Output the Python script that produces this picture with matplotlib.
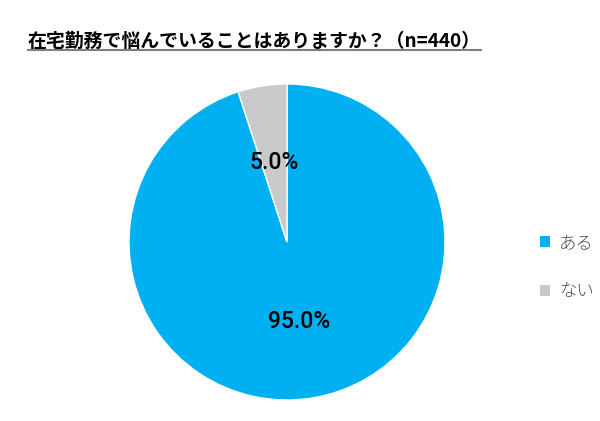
import matplotlib
matplotlib.use("Agg")
import matplotlib.pyplot as plt
from matplotlib.patches import Patch

plt.rcParams['font.family'] = ['Noto Sans CJK JP', 'DejaVu Sans']

title = "在宅勤務で悩んでいることはありますか？（n=440）"
labels = ["ある", "ない"]
values = [95.0, 5.0]
colors = ["#00B0F0", "#C9C9C9"]

fig = plt.figure(figsize=(6, 4.21), dpi=100)

# pie area: center ~ (287, 243) px, radius ~158 px
ax = fig.add_axes([129 / 600, 20 / 421, 316 / 600, 318 / 421])
wedges, texts, autotexts = ax.pie(
    values, colors=colors, startangle=90, counterclock=False,
    autopct="%.1f%%", pctdistance=0.51,
    wedgeprops=dict(edgecolor="white", linewidth=1.0),
    textprops=dict(fontsize=16.5, family=["Roboto", "DejaVu Sans"], weight="medium", color="black"),
)
ax.set_xlim(-1, 1)
ax.set_ylim(-1, 1)
ax.set_aspect("equal")

# title + underline
fig.text(28 / 600, 1 - 41 / 421, title, fontsize=13.6, weight="bold",
         ha="left", va="center", color="black")
fig.add_artist(plt.Line2D([28 / 600, 481 / 600], [1 - 49.5 / 421, 1 - 49.5 / 421],
                          color="#7f7f7f", linewidth=1.5))

handles = [Patch(facecolor=c, edgecolor="none") for c in colors]
fig.legend(handles, labels, loc="center left", bbox_to_anchor=(524 / 600, 1 - 267 / 421),
           frameon=False, handlelength=0.6, handleheight=0.6, handletextpad=0.5,
           labelspacing=1.75, prop=dict(family=["Noto Sans CJK JP"], size=12.5, weight="light"),
           labelcolor="#4d4d4d")

fig.savefig("out.png", dpi=100)
